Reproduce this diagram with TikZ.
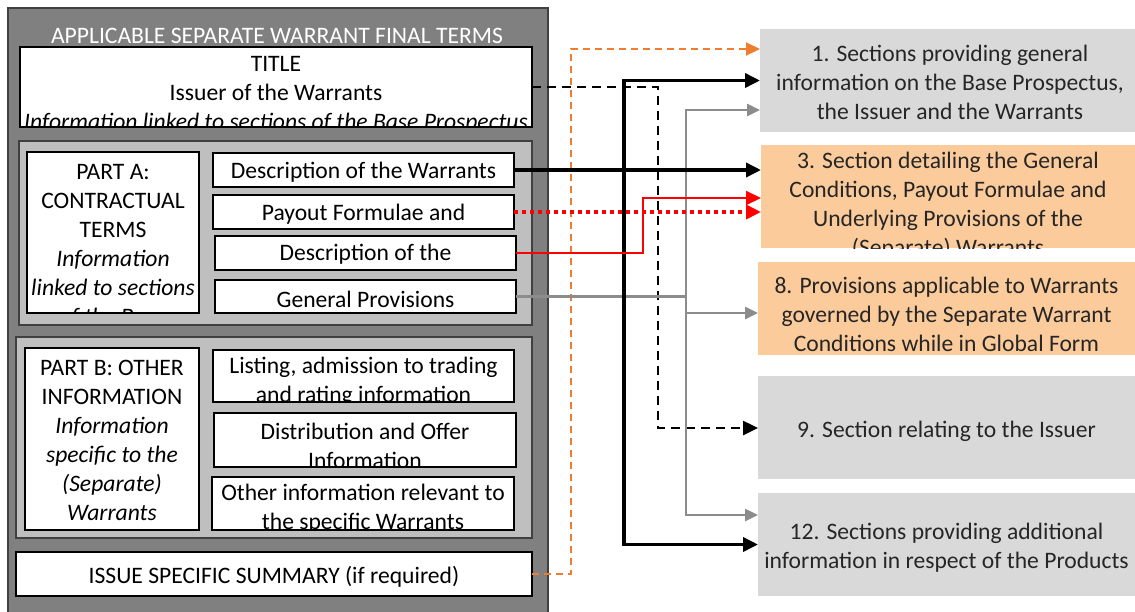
\documentclass[tikz,border=0pt]{standalone}
\usepackage{fontspec}
\setmainfont{Carlito}
\usetikzlibrary{arrows.meta}

\definecolor{outergray}{HTML}{808080}
\definecolor{partgray}{HTML}{BFBFBF}
\definecolor{edgegray}{HTML}{404040}
\definecolor{secgray}{HTML}{D9D9D9}
\definecolor{secpeach}{HTML}{FBCB9B}
\definecolor{linkorange}{HTML}{ED7D31}
\definecolor{linkgray}{HTML}{8C8C8C}
\definecolor{linkred}{HTML}{FF0000}

\begin{document}
\begin{tikzpicture}[x=1pt, y=-1pt,
  every node/.style={inner sep=0pt, outer sep=0pt},
  txt/.style={align=center, font=\fontsize{23.6}{29}\selectfont},
  sectxt/.style={txt, text=black!85},
  wbox/.style={draw=black, line width=2pt, fill=white},
  partbox/.style={draw=edgegray, line width=2pt, fill=partgray},
  secbox/.style={fill=secgray},
  peachbox/.style={fill=secpeach},
  blkline/.style={line width=3.5pt, -{Triangle[length=15pt,width=14pt]}},
  dashline/.style={line width=2.5pt, dash pattern=on 9pt off 6pt, -{Triangle[length=15pt,width=14pt]}},
  redline/.style={draw=linkred, line width=2pt, -{Triangle[length=15pt,width=14pt]}},
  dotline/.style={draw=linkred, line width=4pt, dash pattern=on 4pt off 4pt, -{Triangle[length=15pt,width=14pt]}},
  grayline/.style={draw=linkgray, line width=2.5pt, -{Triangle[length=13pt,width=12pt]}},
  orangeline/.style={draw=linkorange, line width=2pt, dash pattern=on 7pt off 5pt, -{Triangle[length=14pt,width=13pt]}}]
\useasboundingbox (0,0) rectangle (1135,611);

% final terms frame
\node[draw=edgegray, line width=2pt, fill=outergray, minimum width=540, minimum height=610] (frame) at (278,313) {};
\node[txt, text=white] (head) at (277,36) {APPLICABLE SEPARATE WARRANT FINAL TERMS};

\node[wbox, minimum width=512, minimum height=80] (title) at (276,87) {};
\begin{scope}
\clip ([shift={(1,-1)}]title.south west) rectangle ([shift={(-1,1)}]title.north east);
\node[txt] (titletxt) at (276,95) {TITLE\\Issuer of the Warrants\\\textit{Information linked to sections of the Base Prospectus}};
\end{scope}

% part A
\node[partbox, minimum width=513, minimum height=184] (parta) at (275.5,233) {};
\node[wbox, minimum width=172, minimum height=161] (partahead) at (113,232.5) {};
\begin{scope}
\clip ([shift={(1,-1)}]partahead.south west) rectangle ([shift={(-1,1)}]partahead.north east);
\node[txt] (partatxt) at (113,245.5) {PART A:\\CONTRACTUAL\\TERMS\\\textit{Information}\\\textit{linked to sections}\\\textit{of the Base}};
\end{scope}
\node[wbox, minimum width=301, minimum height=34] (descw) at (363.5,170) {};
\node[wbox, minimum width=301, minimum height=34] (payout) at (363.5,212) {};
\node[wbox, minimum width=301, minimum height=34] (descu) at (365.5,253) {};
\node[wbox, minimum width=301, minimum height=33] (genprov) at (365.5,296.5) {};
\node[txt] (descwtxt) at (363.5,172.5) {Description of the Warrants};
\node[txt] (payouttxt) at (363.5,214) {Payout Formulae and};
\node[txt] (descutxt) at (365.5,254) {Description of the};
\node[txt] (genprovtxt) at (365.5,299) {General Provisions};

% part B
\node[partbox, minimum width=516, minimum height=201] (partb) at (274,437.5) {};
\node[wbox, minimum width=174, minimum height=182] (partbhead) at (112,439) {};
\node[txt] (partbtxt) at (112,440.5) {PART B: OTHER\\INFORMATION\\\textit{Information}\\\textit{specific to the}\\\textit{(Separate)}\\\textit{Warrants}};
\node[wbox, minimum width=301, minimum height=52] (listing) at (363.5,376) {};
\node[wbox, minimum width=302, minimum height=54] (distrib) at (365,440) {};
\node[wbox, minimum width=302, minimum height=53] (other) at (363,503.5) {};
\begin{scope}
\clip ([shift={(1,-1)}]listing.south west) rectangle ([shift={(-1,1)}]listing.north east);
\node[txt] (listingtxt) at (363.5,382) {Listing, admission to trading\\and rating information};
\end{scope}
\begin{scope}
\clip ([shift={(1,-1)}]distrib.south west) rectangle ([shift={(-1,1)}]distrib.north east);
\node[txt] (distribtxt) at (365,445.5) {Distribution and Offer\\Information};
\end{scope}
\begin{scope}
\clip ([shift={(1,-1)}]other.south west) rectangle ([shift={(-1,1)}]other.north east);
\node[txt] (othertxt) at (363,509) {Other information relevant to\\the specific Warrants};
\end{scope}

\node[wbox, minimum width=516, minimum height=44] (summary) at (274,574) {};
\node[txt] (summarytxt) at (274,576.5) {ISSUE SPECIFIC SUMMARY (if required)};

% sections of the base prospectus
\node[secbox, minimum width=375, minimum height=103] (sec1) at (947.5,80.5) {};
\node[sectxt] (sec1txt) at (950,82.5) {1. Sections providing general\\information on the Base Prospectus,\\the Issuer and the Warrants};
\node[peachbox, minimum width=374, minimum height=103] (sec3) at (948,196.5) {};
\begin{scope}
\clip (sec3.south west) rectangle (sec3.north east);
\node[sectxt] (sec3txt) at (948,206) {3. Section detailing the General\\Conditions, Payout Formulae and\\Underlying Provisions of the\\(Separate) Warrants};
\end{scope}
\node[peachbox, minimum width=377, minimum height=93] (sec8) at (946.5,308.5) {};
\node[sectxt] (sec8txt) at (946.5,314.5) {8. Provisions applicable to Warrants\\governed by the Separate Warrant\\Conditions while in Global Form};
\node[secbox, minimum width=377, minimum height=103] (sec9) at (946.5,427.5) {};
\node[sectxt] (sec9txt) at (946.5,431) {9. Section relating to the Issuer};
\node[secbox, minimum width=377, minimum height=103] (sec12) at (946.5,544.5) {};
\node[sectxt] (sec12txt) at (946.5,547.5) {12. Sections providing additional\\information in respect of the Products};

% links
\coordinate (hubblack) at (624,170);
\coordinate (hubgray) at (686,296.5);
\draw[orangeline] (summary.east) -| (571,49) -- (sec1.west |- 571,49);
\draw[dashline] (title.east) -| (658,428) -- (sec9.west |- 658,428);
\draw[grayline] (genprov.east) -- (hubgray) |- (sec1.west |- 686,110);
\draw[grayline] (hubgray) |- (sec8.west |- 686,313);
\draw[grayline] (hubgray) |- (sec12.west |- 686,515);
\draw[blkline] (descw.east) -- (sec3.west |- descw.east);
\draw[blkline] (hubblack) |- (sec1.west);
\draw[blkline] (hubblack) |- (sec12.west);
\draw[redline] (descu.east) -| (643,198) -- (sec3.west |- 643,198);
\draw[dotline] (payout.east) -- (sec3.west |- payout.east);
\end{tikzpicture}
\end{document}
